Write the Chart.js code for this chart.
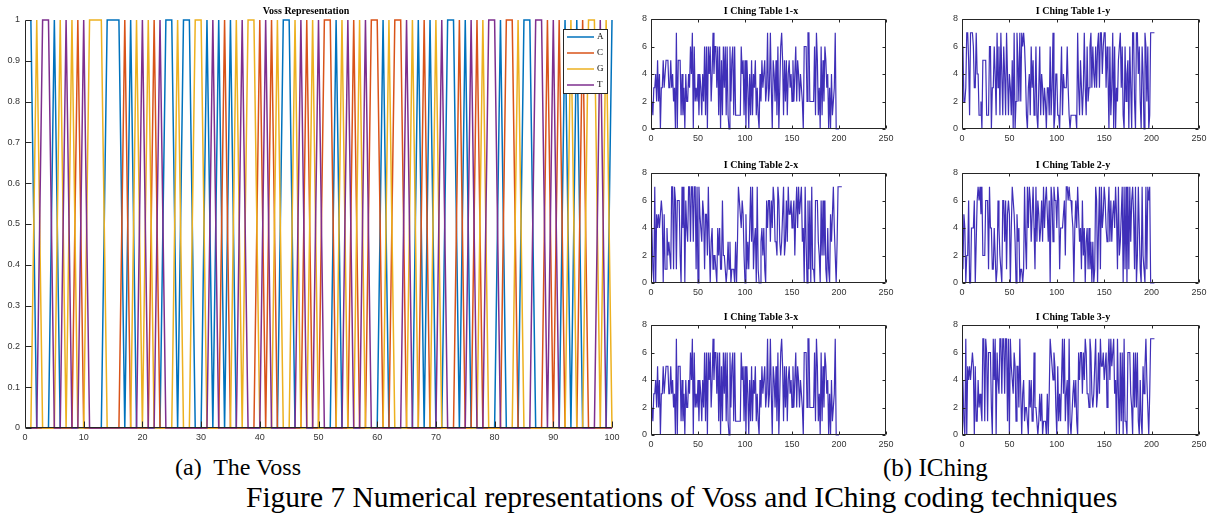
<!DOCTYPE html>
<html>
<head>
<meta charset="utf-8">
<script src="https://cdn.jsdelivr.net/npm/chart.js@4/dist/chart.umd.min.js"></script>
<style>
  html, body { margin: 0; padding: 0; background: #fff; }
  #page { position: relative; width: 1211px; height: 524px; overflow: hidden; background: #fff; }
  canvas { position: absolute; }
  .cap { position: absolute; font-family: 'Liberation Serif', 'Times New Roman', serif; font-size: 25px; color: #000; white-space: pre; line-height: 1; }
</style>
</head>
<body>
<div id="page">
  <canvas id="voss" style="left:0px;top:0px" width="620" height="445"></canvas>
  <canvas id="t1x" style="left:636px;top:0px" width="260" height="148"></canvas>
  <canvas id="t1y" style="left:947px;top:0px" width="262" height="148"></canvas>
  <canvas id="t2x" style="left:636px;top:154px" width="260" height="148"></canvas>
  <canvas id="t2y" style="left:947px;top:154px" width="262" height="148"></canvas>
  <canvas id="t3x" style="left:636px;top:306px" width="260" height="148"></canvas>
  <canvas id="t3y" style="left:947px;top:306px" width="262" height="148"></canvas>
  <div class="cap" style="left:175px;top:455px;font-size:24px">(a)  The Voss</div>
  <div class="cap" style="left:883px;top:455px">(b) IChing</div>
  <div class="cap" style="left:246px;top:483px;font-size:29.5px">Figure 7 Numerical representations of Voss and IChing coding techniques</div>
</div>
<script>
// --- DATA ---
const vossBases = [
  'A','G','T','T','A','G','T','G','C','T',
  'G','G','G','A','A','A','C','A','G','T',
  'G','C','T','A','A','G','A','A','G','G',
  'A','T','A','C','A','G','T','G','G','C',
  'T','C','G','A','A','G','T','C','G','T',
  'C','C','A','G','T','C','G','T','C','C',
  'A','G','C','C','T','G','A','C','A','G',
  'T','A','A','C','A','T','C','G','T','T',
  'A','C','C','G','A','A','T','T','C','T',
  'C','A','G','A','C','G','G','T','G','A'
];
const vossLetters = ['A', 'C', 'G', 'T'];
const vossColors = ['#0072BD', '#D95319', '#EDB120', '#7E2F8E'];
const vossXTicks = [0, 10, 20, 30, 40, 50, 60, 70, 80, 90, 100];
const vossYTicks = [0, 0.1, 0.2, 0.3, 0.4, 0.5, 0.6, 0.7, 0.8, 0.9, 1];

const table1x = [
  2,1,3,3,4,2,5,2,4,0, 3,3,5,3,4,5,5,5,3,3, 5,3,4,2,3,0,7,0,5,5, 5,1,4,1,3,0,4,2,2,4,
  3,6,4,7,0,6,2,3,2,4, 1,4,3,1,4,2,6,1,6,0, 6,4,6,2,4,7,4,6,6,3, 6,1,6,0,5,1,6,3,6,1,
  6,1,0,6,2,5,6,1,6,1, 1,1,1,1,1,6,4,5,1,5, 0,5,3,0,4,1,5,1,4,3, 5,1,3,1,0,4,2,5,3,4,
  5,2,3,7,2,3,7,3,0,5, 4,2,5,1,6,0,3,6,7,5, 1,5,2,5,1,4,5,3,4,2, 5,2,4,6,2,5,4,2,4,3,
  2,0,6,6,6,2,7,7,2,2, 2,2,2,6,1,7,5,1,3,0, 6,1,5,2,6,5,3,4,0,3, 0,4,1,2,3,7,0,0,0,0,
  0
];
const table1y = [
  6,2,2,3,7,7,5,1,7,7, 7,6,3,3,7,4,4,1,1,2, 0,5,5,5,5,1,1,1,6,6, 0,3,3,6,4,1,7,3,6,1,
  7,4,1,6,4,1,7,4,1,4, 3,1,5,0,7,0,2,7,5,2, 7,2,7,6,7,6,4,1,0,3, 4,1,6,3,5,1,2,6,1,0,
  3,6,1,4,3,1,3,2,0,3, 3,1,6,1,3,7,0,1,4,4, 1,1,0,3,6,1,4,3,3,3, 6,3,1,0,1,1,1,1,1,1,
  0,7,3,1,5,3,1,3,7,3, 1,6,2,3,6,7,3,6,4,3, 6,3,6,7,3,7,7,4,6,7, 7,3,6,4,0,6,1,3,7,0,
  6,0,3,2,5,6,7,3,6,1, 0,6,2,4,5,0,6,3,0,7, 7,2,0,7,7,4,6,2,0,6, 4,0,7,6,2,6,0,1,7,7,
  7,7,7
];
const table2x = [
  4,1,0,7,0,5,4,5,4,5, 6,5,0,5,1,1,4,2,3,2, 1,7,7,1,7,6,1,6,6,6, 2,0,7,4,7,0,6,4,3,7,
  7,3,7,7,3,7,7,1,7,0, 7,5,4,3,6,5,1,5,5,2, 7,3,0,3,4,1,2,2,1,0, 4,2,4,1,1,6,2,2,1,0,
  1,3,1,3,0,1,1,1,0,3, 0,3,7,6,5,4,6,5,2,0, 5,1,3,1,4,7,3,7,1,3, 4,0,7,1,0,0,3,4,2,4,
  1,0,6,4,6,6,3,6,4,7, 6,3,3,2,7,6,3,2,3,5, 7,2,3,6,3,7,5,5,6,4, 5,6,2,5,7,4,7,5,6,7,
  3,4,0,7,3,0,6,1,6,0, 7,1,1,0,6,6,6,3,2,0, 6,2,6,2,6,1,0,4,1,0, 5,3,5,7,4,2,0,3,7,7,
  7,7,7
];
const table2y = [
  1,5,4,0,2,2,6,0,0,4, 4,4,6,0,3,6,7,6,7,5, 7,2,2,2,6,6,6,1,7,4, 4,1,1,4,2,0,1,6,4,2,
  1,0,6,6,3,6,1,5,6,5, 0,4,7,6,5,3,0,5,3,4, 0,1,1,0,1,7,3,1,7,4, 7,6,3,5,7,4,1,7,3,6,
  5,3,4,6,3,7,4,6,7,5, 3,6,0,7,6,3,7,6,6,4, 7,6,1,4,4,4,5,6,2,7, 7,6,7,6,6,5,4,0,4,6,
  4,7,5,3,4,1,6,2,4,0, 3,4,1,4,1,3,0,3,0,1, 7,6,0,4,7,1,7,4,5,7, 6,4,3,5,7,3,6,3,5,6,
  4,7,5,1,7,2,3,5,7,0, 7,1,7,0,7,1,7,3,6,7, 5,1,7,0,2,7,4,1,0,7, 2,1,0,7,1,7,6,7,0,0,
  0,0,0
];
// tables 3-x / 3-y are the same traces as 1-x / 2-x in the figure
const table3x = table1x;
const table3y = table2x;

const ichingXTicks = [0, 50, 100, 150, 200, 250];
const ichingYTicks = [0, 2, 4, 6, 8];
const ichingColor = '#3F2FB8';

// --- PLUGINS ---
const axesBox = {
  id: 'axesBox',
  afterDraw(chart, args, opts) {
    const { ctx, chartArea: a, scales: { x, y } } = chart;
    const t = opts.tick || 4;
    ctx.save();
    ctx.strokeStyle = '#262626';
    ctx.lineWidth = 1;
    ctx.beginPath();
    const L = Math.round(a.left) + 0.5, R = Math.round(a.right) - 0.5;
    const T = Math.round(a.top) + 0.5, B = Math.round(a.bottom) - 0.5;
    ctx.moveTo(L, T); ctx.lineTo(L, B); ctx.lineTo(R, B);
    if (opts.box) { ctx.moveTo(L, T); ctx.lineTo(R, T); ctx.lineTo(R, B); }
    x.ticks.forEach(tk => {
      const px = Math.round(x.getPixelForValue(tk.value)) + 0.5;
      ctx.moveTo(px, B); ctx.lineTo(px, B - t);
      if (opts.box) { ctx.moveTo(px, T); ctx.lineTo(px, T + t); }
    });
    y.ticks.forEach(tk => {
      const py = Math.round(y.getPixelForValue(tk.value)) + 0.5;
      ctx.moveTo(L, py); ctx.lineTo(L + t, py);
      if (opts.box) { ctx.moveTo(R, py); ctx.lineTo(R - t, py); }
    });
    ctx.stroke();
    ctx.restore();
  }
};

const boxLegend = {
  id: 'boxLegend',
  afterDraw(chart, args, opts) {
    if (!opts.show) return;
    const { ctx } = chart;
    const bx = opts.x, by = opts.y, bw = opts.w, bh = opts.h;
    ctx.save();
    ctx.fillStyle = '#fff';
    ctx.fillRect(bx, by, bw, bh);
    ctx.strokeStyle = '#262626';
    ctx.lineWidth = 1;
    ctx.strokeRect(bx + 0.5, by + 0.5, bw, bh);
    ctx.font = '9px "Liberation Serif", serif';
    ctx.textBaseline = 'middle';
    chart.data.datasets.forEach((ds, i) => {
      const ly = by + 8 + i * 16;
      ctx.strokeStyle = ds.borderColor;
      ctx.lineWidth = 1.5;
      ctx.beginPath();
      ctx.moveTo(bx + 4, ly); ctx.lineTo(bx + 31, ly);
      ctx.stroke();
      ctx.fillStyle = '#000';
      ctx.fillText(ds.label, bx + 34, ly);
    });
    ctx.restore();
  }
};

Chart.defaults.font.family = '"Liberation Sans", Arial, sans-serif';
Chart.defaults.font.size = 9;
Chart.defaults.color = '#333';

function fixedAxis(size, isX) {
  return function (scale) {
    if (isX) { scale.height = size; scale.paddingLeft = 0; scale.paddingRight = 0; }
    else { scale.width = size; scale.paddingTop = 0; scale.paddingBottom = 0; }
  };
}

// --- VOSS CHART ---
const vossDatasets = vossLetters.map((letter, k) => ({
  label: letter,
  data: vossBases.map((b, i) => ({ x: i + 1, y: b === letter ? 1 : 0 })),
  borderColor: vossColors[k],
  backgroundColor: vossColors[k],
  borderWidth: 1.5,
  pointRadius: 0,
  tension: 0,
  clip: 3,
  order: vossLetters.length - k
}));

new Chart(document.getElementById('voss'), {
  type: 'line',
  data: { datasets: vossDatasets },
  options: {
    responsive: false,
    animation: false,
    events: [],
    layout: { padding: { left: 0, right: 8, top: 0, bottom: 0 } },
    plugins: {
      legend: { display: false },
      tooltip: { enabled: false },
      title: {
        display: true, text: 'Voss Representation', color: '#000',
        font: { family: '"Liberation Serif", serif', size: 10, weight: 'bold', lineHeight: 1.2 },
        padding: { top: 5, bottom: 3 }
      },
      axesBox: { box: false, tick: 6 },
      boxLegend: { show: true, x: 563, y: 29, w: 44, h: 64 }
    },
    scales: {
      x: {
        type: 'linear', min: 0, max: 100,
        afterBuildTicks: s => { s.ticks = vossXTicks.map(v => ({ value: v })); },
        ticks: { padding: 4, maxRotation: 0 },
        grid: { display: false, drawTicks: false },
        border: { display: false },
        afterFit: fixedAxis(17, true)
      },
      y: {
        min: 0, max: 1,
        afterBuildTicks: s => { s.ticks = vossYTicks.map(v => ({ value: v })); },
        ticks: { padding: 5, callback: v => String(Math.round(v * 10) / 10) },
        grid: { display: false, drawTicks: false },
        border: { display: false },
        afterFit: fixedAxis(25, false)
      }
    }
  },
  plugins: [axesBox, boxLegend]
});

// --- I CHING CHARTS ---
function ichingChart(id, title, values) {
  return new Chart(document.getElementById(id), {
    type: 'line',
    data: {
      datasets: [{
        label: title,
        data: values.map((v, i) => ({ x: i + 1, y: v })),
        borderColor: ichingColor,
        borderWidth: 1.2,
        pointRadius: 0,
        tension: 0,
        clip: 2
      }]
    },
    options: {
      responsive: false,
      animation: false,
      events: [],
      layout: { padding: { left: 0, right: 10, top: 0, bottom: 0 } },
      plugins: {
        legend: { display: false },
        tooltip: { enabled: false },
        title: {
          display: true, text: title, color: '#000',
          font: { family: '"Liberation Serif", serif', size: 10, weight: 'bold', lineHeight: 1.2 },
          padding: { top: 5, bottom: 2 }
        },
        axesBox: { box: true, tick: 3 }
      },
      scales: {
        x: {
          type: 'linear', min: 0, max: 250,
          afterBuildTicks: s => { s.ticks = ichingXTicks.map(v => ({ value: v })); },
          ticks: { padding: 4, maxRotation: 0 },
          grid: { display: false, drawTicks: false },
          border: { display: false },
          afterFit: fixedAxis(19, true)
        },
        y: {
          min: 0, max: 8,
          afterBuildTicks: s => { s.ticks = ichingYTicks.map(v => ({ value: v })); },
          ticks: { padding: 4 },
          grid: { display: false, drawTicks: false },
          border: { display: false },
          afterFit: fixedAxis(15, false)
        }
      }
    },
    plugins: [axesBox]
  });
}

ichingChart('t1x', 'I Ching Table 1-x', table1x);
ichingChart('t1y', 'I Ching Table 1-y', table1y);
ichingChart('t2x', 'I Ching Table 2-x', table2x);
ichingChart('t2y', 'I Ching Table 2-y', table2y);
ichingChart('t3x', 'I Ching Table 3-x', table3x);
ichingChart('t3y', 'I Ching Table 3-y', table3y);
</script>
</body>
</html>
